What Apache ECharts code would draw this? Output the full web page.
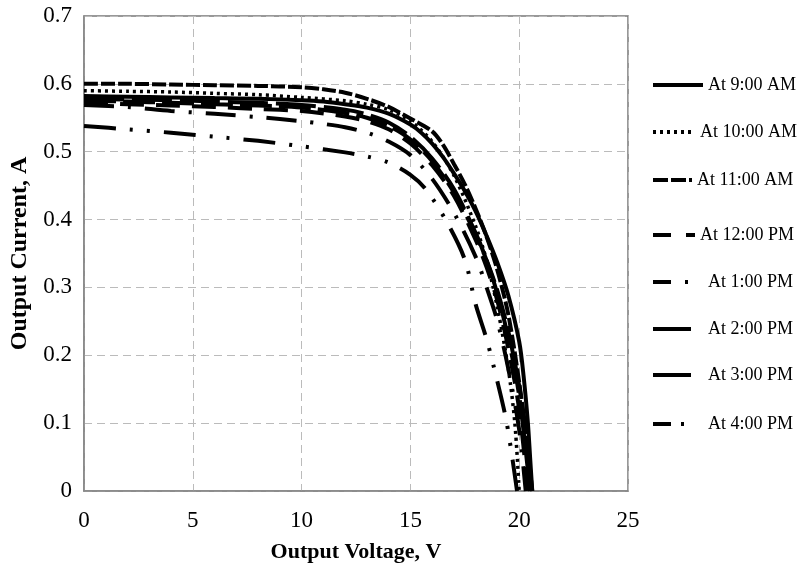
<!DOCTYPE html>
<html>
<head>
<meta charset="utf-8">
<script src="https://cdn.jsdelivr.net/npm/echarts@6/dist/echarts.min.js"></script>
<style>html,body{margin:0;padding:0;background:#fff;}#c{width:803px;height:576px;}</style>
</head>
<body>
<div id="c"></div>
<script>
const seriesNames = ['At 9:00 AM','At 10:00 AM','At 11:00 AM','At 12:00 PM','At 1:00 PM','At 2:00 PM','At 3:00 PM','At 4:00 PM'];
const xTicks = [0,5,10,15,20,25];
const yTicks = [0,0.1,0.2,0.3,0.4,0.5,0.6,0.7];

const v9am  = [0,2,4,6,8,10,11,12,13,14,15,15.5,16,16.5,17,17.5,18,18.5,19,19.5,20,20.2,20.4,20.5,20.6];
const i9am  = [0.582,0.581,0.580,0.579,0.578,0.576,0.574,0.570,0.565,0.556,0.540,0.528,0.512,0.492,0.468,0.442,0.412,0.376,0.336,0.288,0.220,0.170,0.100,0.050,0];
const v10am = [0,2,4,6,8,10,12,13,14,15,16,17,18,18.5,19,19.5,19.8,20.0];
const i10am = [0.590,0.589,0.588,0.586,0.584,0.580,0.575,0.570,0.562,0.545,0.515,0.465,0.390,0.340,0.270,0.180,0.100,0];
const v11am = [0,2,4,6,8,10,11,12,13,14,15,16,16.5,17,17.5,18,18.5,19,19.5,20,20.3,20.5];
const i11am = [0.600,0.600,0.599,0.598,0.597,0.595,0.592,0.587,0.578,0.566,0.549,0.530,0.510,0.482,0.452,0.416,0.375,0.325,0.260,0.160,0.080,0];
const v12pm = [0,2,4,6,8,10,12,13,14,15,16,17,18,18.5,19,19.5,20,20.4];
const i12pm = [0.572,0.570,0.568,0.566,0.563,0.560,0.552,0.545,0.533,0.512,0.480,0.435,0.370,0.330,0.280,0.210,0.120,0];
const v1pm  = [0,2,4,6,8,10,11,12,13,14,15,16,17,18,18.5,19,19.5,20,20.3];
const i1pm  = [0.569,0.566,0.560,0.556,0.551,0.545,0.541,0.536,0.528,0.515,0.495,0.460,0.410,0.345,0.300,0.250,0.180,0.090,0];
const v2pm  = [0,2,4,6,8,10,12,13,14,15,16,17,18,18.5,19,19.5,20,20.5];
const i2pm  = [0.578,0.577,0.576,0.574,0.572,0.569,0.562,0.555,0.543,0.522,0.490,0.445,0.380,0.340,0.290,0.225,0.140,0];
const v3pm  = [0,2,4,6,8,10,12,13,14,15,16,17,18,18.5,19,19.5,20,20.3,20.6];
const i3pm  = [0.575,0.574,0.572,0.570,0.568,0.565,0.557,0.550,0.538,0.518,0.486,0.440,0.378,0.340,0.295,0.235,0.155,0.090,0];
const v4pm  = [0,2,4,6,8,10,12,13,14,15,15.7,16.7,17.5,18,18.5,19,19.4,19.7,19.9];
const i4pm  = [0.538,0.533,0.528,0.522,0.516,0.508,0.499,0.493,0.484,0.466,0.445,0.395,0.341,0.275,0.224,0.161,0.105,0.045,0];

const voltages = [v9am,v10am,v11am,v12pm,v1pm,v2pm,v3pm,v4pm];
const currents = [i9am,i10am,i11am,i12pm,i1pm,i2pm,i3pm,i4pm];

// plot line styles
const styles = [
  {type:'solid', width:4},
  {type:[3,4], width:3.5},
  {type:[14,3], width:4},
  {type:[24,12], width:4},
  {type:[30,14,3,14], width:4},
  {type:[40,8], width:4},
  {type:[32,7], width:4},
  {type:[32,14,3,14,3,14], width:4}
];
// legend samples: [centerY, itemWidth, textPadLeft, dash]
const legendLayout = [
  [83, 50, 0, 'solid'],
  [130, 42, 0, [3,4]],
  [178, 39, 0, [15,3]],
  [233, 42, 0, [18,15]],
  [280, 38, 12, [18,14,3,40]],
  [327, 38, 12, 'solid'],
  [373, 38, 12, 'solid'],
  [422, 31, 19, [18,10,3,40]]
];

const FONT = 'Liberation Serif';
const chart = echarts.init(document.getElementById('c'), null, {renderer:'canvas'});
chart.setOption({
  animation:false,
  backgroundColor:'#fff',
  grid:{left:84, right:175, top:16, bottom:85, show:true, borderColor:'#777', borderWidth:1.5},
  legend: seriesNames.map((name,k)=>({
    orient:'vertical', left:651, top:legendLayout[k][0]-7,
    itemWidth:legendLayout[k][1], itemHeight:14,
    padding:0,
    textStyle:{fontFamily:FONT, fontSize:18, color:'#000', padding:[0,0,0,legendLayout[k][2]]},
    itemStyle:{color:'rgba(0,0,0,0)', opacity:0, borderWidth:0},
    lineStyle:{type:legendLayout[k][3], width:4, color:'#000', cap:'butt'},
    data:[name]
  })),
  xAxis:{
    type:'value', min:0, max:25, interval:5,
    name:'Output Voltage, V', nameLocation:'middle', nameGap:50,
    nameTextStyle:{fontFamily:FONT, fontSize:22, fontWeight:'bold', color:'#000'},
    axisLine:{show:true, lineStyle:{color:'#888', width:1.5}},
    axisTick:{show:false},
    axisLabel:{fontFamily:FONT, fontSize:23, color:'#000', margin:18, formatter:v=>xTicks.includes(v)?String(v):''},
    splitLine:{show:true, lineStyle:{color:'#bbb', type:[8,5], width:1}}
  },
  yAxis:{
    type:'value', min:0, max:0.7, interval:0.1,
    name:'Output Current, A', nameLocation:'middle', nameGap:52, nameRotate:90,
    nameTextStyle:{fontFamily:FONT, fontSize:24, fontWeight:'bold', color:'#000'},
    axisLine:{show:true, lineStyle:{color:'#888', width:1.5}},
    axisTick:{show:false},
    axisLabel:{fontFamily:FONT, fontSize:23, color:'#000', margin:12,
      formatter:v=>{const t=yTicks.find(y=>Math.abs(y-v)<1e-9);return t===undefined?'':String(t);}},
    splitLine:{show:true, lineStyle:{color:'#bbb', type:[8,5], width:1}}
  },
  series: seriesNames.map((name,k)=>({
    name:name, type:'line', showSymbol:false, symbol:'none', smooth:0.3,
    lineStyle:{color:'#000', width:styles[k].width, type:styles[k].type, cap:'butt'},
    itemStyle:{color:'#000'},
    data: voltages[k].map((v,j)=>[v, currents[k][j]])
  }))
});
</script>
</body>
</html>
